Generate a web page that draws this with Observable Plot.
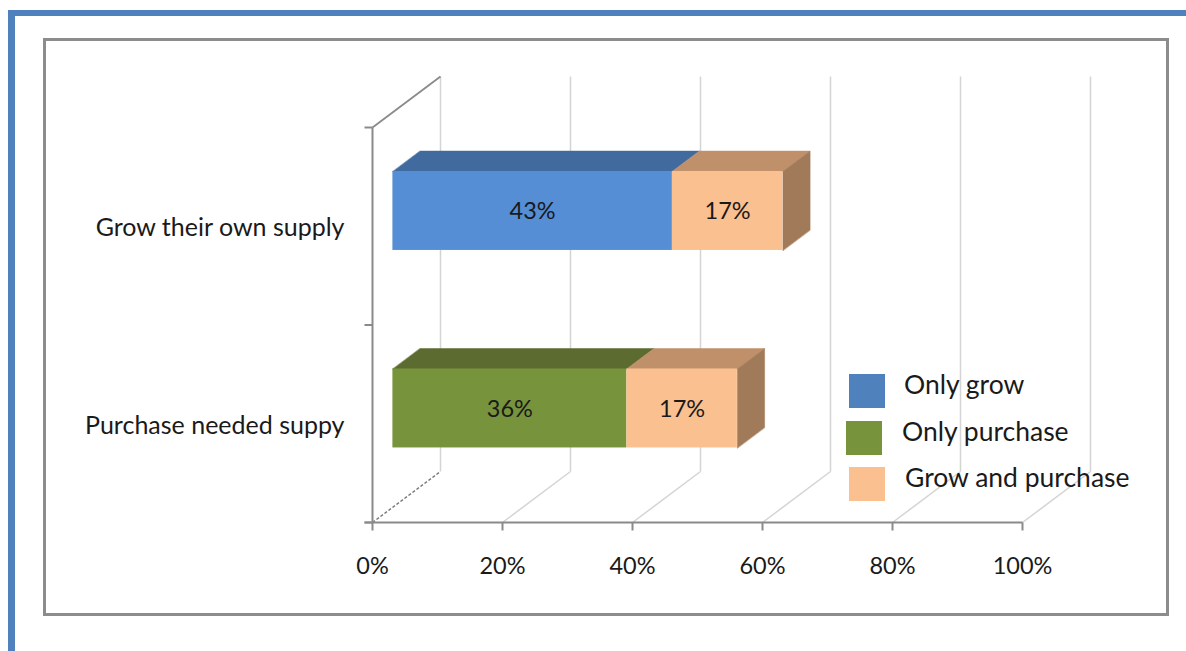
<!DOCTYPE html>
<html>
<head>
<meta charset="utf-8">
<script src="https://cdn.jsdelivr.net/npm/d3@7"></script>
<script src="https://cdn.jsdelivr.net/npm/@observablehq/plot@0.6"></script>
<style>
  html, body { margin: 0; padding: 0; background: #fff; }
  body { width: 1186px; height: 651px; position: relative; overflow: hidden; font-family: Lato, "Open Sans", sans-serif; }
  #blueTop { position: absolute; left: 8px; top: 10px; width: 1178px; height: 6px; background: #4F81BD; }
  #blueLeft { position: absolute; left: 8px; top: 10px; width: 7px; height: 641px; background: #4F81BD; }
  #frame { position: absolute; left: 43px; top: 38px; width: 1126px; height: 578px; border: 3px solid #8c8c8c; box-sizing: border-box; }
  #chart { position: absolute; left: 0; top: 0; }
  #legend { position: absolute; left: 0; top: 0; }
  .sw { width: 36px; height: 34px; }
  .lbl { font-size: 26.5px; color: #1a1a1a; white-space: nowrap; }
</style>
</head>
<body>
<div id="blueTop"></div>
<div id="blueLeft"></div>
<div id="frame"></div>
<div id="chart"></div>
<div id="legend"></div>
<script>
// ---- data ----
const categories = ["Purchase needed suppy", "Grow their own supply"]; // bottom to top
const seriesNames = ["Only grow", "Only purchase", "Grow and purchase"];
const segCategory = ["Grow their own supply", "Grow their own supply", "Purchase needed suppy", "Purchase needed suppy"];
const segSeries = ["Only grow", "Grow and purchase", "Only purchase", "Grow and purchase"];
const segValue = [43, 17, 36, 17];
const xTicks = [0, 20, 40, 60, 80, 100];
const xTickLabels = ["0%", "20%", "40%", "60%", "80%", "100%"];

// ---- styles ----
const frontColor = {"Only grow": "#558ED5", "Only purchase": "#77933C", "Grow and purchase": "#FAC090"};
const topColor = {"Only grow": "#416A9E", "Only purchase": "#5C6B2F", "Grow and purchase": "#C0906B"};
const sideColor = {"Only grow": "#38598a", "Only purchase": "#4e5c28", "Grow and purchase": "#A17B59"};
const legendColor = {"Only grow": "#4F81BD", "Only purchase": "#77933C", "Grow and purchase": "#FAC090"};

const W = 1186, H = 651, ML = 372, MR = 164, MT = 127, MB = 129;
const pxPerX = (W - ML - MR) / 100;
const pxPerY = (H - MT - MB) / categories.length;
// depth projection (pixels) converted into data units
const DX = 68 / pxPerX, DY = 51 / pxPerY;
const T0 = 0.3, T1 = 0.7, HALF = 0.2;
const TICKX = 8 / pxPerX, TICKY = 8 / pxPerY;

// stacked segments
const segments = [];
const cum = {};
segValue.forEach((v, i) => {
  const c = segCategory[i];
  const x0 = cum[c] || 0;
  cum[c] = x0 + v;
  segments.push({cat: c, series: segSeries[i], value: v, x0, x1: x0 + v, yc: categories.indexOf(c) + 0.5});
});
const lastIdx = {};
segments.forEach((s, i) => lastIdx[s.cat] = i);

const polys = [];
segments.forEach((s, k) => {
  const yb0 = s.yc - HALF + T0 * DY, yt0 = s.yc + HALF + T0 * DY;
  const yb1 = s.yc - HALF + T1 * DY, yt1 = s.yc + HALF + T1 * DY;
  const xa0 = s.x0 + T0 * DX, xb0 = s.x1 + T0 * DX, xa1 = s.x0 + T1 * DX, xb1 = s.x1 + T1 * DX;
  [[xa0, yt0], [xb0, yt0], [xb1, yt1], [xa1, yt1]].forEach(([x, y]) =>
    polys.push({id: "top" + k, x, y, fill: topColor[s.series]}));
  if (lastIdx[s.cat] === k) {
    [[xb0, yb0], [xb0, yt0], [xb1, yt1], [xb1, yb1]].forEach(([x, y]) =>
      polys.push({id: "side" + k, x, y, fill: sideColor[s.series]}));
  }
});

const yTicks = d3.range(categories.length + 1);
const font = "Lato, 'Open Sans', sans-serif";

const plot = Plot.plot({
  width: W, height: H,
  marginLeft: ML, marginRight: MR, marginTop: MT, marginBottom: MB,
  x: {domain: [0, 100], axis: null},
  y: {domain: [0, categories.length], axis: null},
  color: {type: "identity"},
  style: {background: "transparent", fontFamily: font, overflow: "visible"},
  marks: [
    // back wall gridlines
    Plot.link(xTicks, {x1: d => d + DX, x2: d => d + DX, y1: DY, y2: categories.length + DY, stroke: "#d4d4d4", strokeWidth: 1.5}),
    // floor gridlines
    Plot.link(xTicks.slice(1), {x1: d => d, y1: 0, x2: d => d + DX, y2: DY, stroke: "#d4d4d4", strokeWidth: 1.5}),
    // floor left edge (dashed)
    Plot.link([0], {x1: 0, y1: 0, x2: DX, y2: DY, stroke: "#7a7a7a", strokeWidth: 1.5, strokeDasharray: "3,2"}),
    // left wall top edge
    Plot.link([0], {x1: 0, y1: categories.length, x2: DX, y2: categories.length + DY, stroke: "#8a8a8a", strokeWidth: 1.8}),
    // left axis
    Plot.link([0], {x1: 0, x2: 0, y1: 0, y2: categories.length, stroke: "#8a8a8a", strokeWidth: 2}),
    Plot.link(yTicks, {x1: -TICKX, x2: 0, y1: d => d, y2: d => d, stroke: "#8a8a8a", strokeWidth: 2}),
    // bottom axis
    Plot.link([0], {x1: -TICKX, x2: 100, y1: 0, y2: 0, stroke: "#8a8a8a", strokeWidth: 2}),
    Plot.link(xTicks, {x1: d => d, x2: d => d, y1: 0, y2: -TICKY, stroke: "#8a8a8a", strokeWidth: 2}),
    // bar top and side faces
    Plot.line(polys, {x: "x", y: "y", z: "id", fill: "fill", stroke: "fill", strokeWidth: 0.5, curve: "linear-closed"}),
    // bar front faces
    Plot.rect(segments, {
      x1: d => d.x0 + T0 * DX, x2: d => d.x1 + T0 * DX,
      y1: d => d.yc - HALF + T0 * DY, y2: d => d.yc + HALF + T0 * DY,
      fill: d => frontColor[d.series]
    }),
    // data labels
    Plot.text(segments, {
      x: d => (d.x0 + d.x1) / 2 + T0 * DX, y: d => d.yc + T0 * DY, dy: 1,
      text: d => d.value + "%", fontSize: 23.5, fill: "#1a1a1a"
    }),
    // x tick labels
    Plot.text(xTicks, {x: d => d, y: 0, dy: 44, text: (d, i) => xTickLabels[i], fontSize: 23.5, fill: "#1a1a1a"}),
    // category labels
    Plot.text(categories, {x: 0, y: (d, i) => i + 0.5, dx: -28, dy: 2, text: d => d, textAnchor: "end", fontSize: 25, fill: "#1a1a1a"})
  ]
});
document.getElementById("chart").appendChild(plot);

// legend
const legendPos = [[849, 374], [846, 421], [849, 467]];
const legendTextX = [904, 902, 905];
const legend = document.getElementById("legend");
seriesNames.forEach((name, i) => {
  const sw = document.createElement("div");
  sw.className = "sw";
  sw.style.cssText = `position:absolute;left:${legendPos[i][0]}px;top:${legendPos[i][1]}px;background:${legendColor[name]}`;
  legend.appendChild(sw);
  const t = document.createElement("div");
  t.className = "lbl";
  t.textContent = name;
  t.style.cssText = `position:absolute;left:${legendTextX[i]}px;top:${legendPos[i][1] - 7}px;line-height:34px;`;
  legend.appendChild(t);
});
</script>
</body>
</html>
